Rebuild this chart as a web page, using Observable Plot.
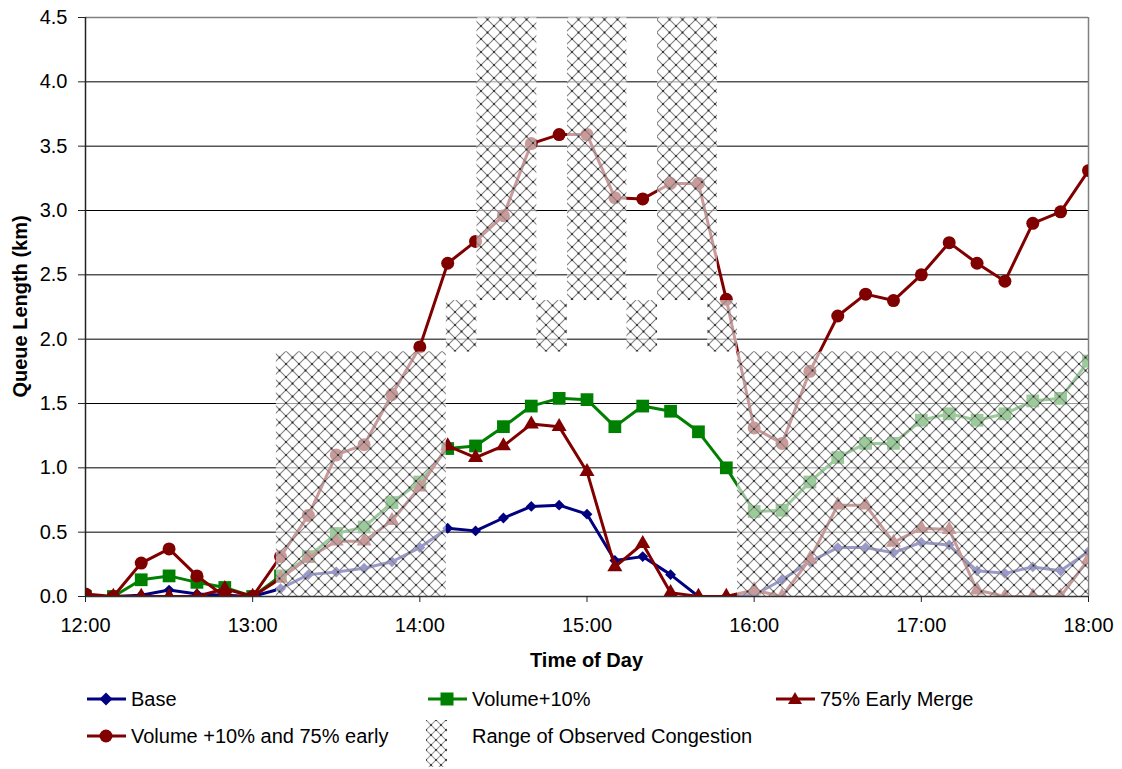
<!DOCTYPE html>
<html><head><meta charset="utf-8">
<script src="https://cdn.jsdelivr.net/npm/d3@7"></script>
<script src="https://cdn.jsdelivr.net/npm/@observablehq/plot@0.6"></script>
<style>
body{margin:0;background:#fff;font-family:"Liberation Sans",Arial,sans-serif;}
#wrap{position:relative;width:1122px;height:769px;overflow:hidden;background:#fff;}
.leg{position:absolute;display:flex;align-items:center;font-size:20px;color:#000;white-space:nowrap;}
.leg svg{display:block;}
</style></head><body><div id="wrap"></div>
<script>
// ---- data ----
const times = ["12:00","12:10","12:20","12:30","12:40","12:50","13:00","13:10","13:20","13:30","13:40","13:50",
  "14:00","14:10","14:20","14:30","14:40","14:50","15:00","15:10","15:20","15:30","15:40","15:50",
  "16:00","16:10","16:20","16:30","16:40","16:50","17:00","17:10","17:20","17:30","17:40","17:50","18:00","18:10"];
const base = [0.00,0.00,0.01,0.05,0.02,0.01,0.00,0.06,0.17,0.19,0.22,0.27,0.38,0.53,0.51,0.61,0.70,0.71,0.64,0.28,0.31,0.17,0.00,0.00,0.01,0.13,0.27,0.38,0.38,0.34,0.42,0.40,0.20,0.18,0.23,0.20,0.35,0.45];
const volume10 = [0.00,0.00,0.13,0.16,0.11,0.07,0.00,0.16,0.31,0.49,0.54,0.73,0.89,1.15,1.17,1.32,1.48,1.54,1.53,1.32,1.48,1.44,1.28,1.00,0.66,0.67,0.89,1.08,1.19,1.19,1.37,1.42,1.37,1.42,1.52,1.54,1.83,2.11];
const earlyMerge75 = [0.00,0.00,0.00,0.00,0.00,0.06,0.00,0.14,0.30,0.43,0.43,0.59,0.85,1.17,1.08,1.17,1.34,1.32,0.97,0.23,0.41,0.03,0.00,0.00,0.05,0.00,0.29,0.71,0.71,0.42,0.53,0.52,0.05,0.00,0.00,0.00,0.29,0.62];
const volume10Early75 = [0.02,0.00,0.26,0.37,0.16,0.00,0.00,0.31,0.63,1.10,1.18,1.57,1.94,2.59,2.76,2.96,3.52,3.59,3.59,3.10,3.09,3.21,3.21,2.31,1.31,1.19,1.75,2.18,2.35,2.30,2.50,2.75,2.59,2.45,2.90,2.99,3.31,3.85];
// observed congestion ranges
const congestionStart = ["13:08:30","14:09:30","14:20:30","14:42:00","14:53:00","15:14:20","15:25:20","15:43:20","15:54:00"];
const congestionEnd   = ["14:09:30","14:20:30","14:42:00","14:53:00","15:14:20","15:25:20","15:46:50","15:54:00","18:00:00"];
const congestionLow   = [0.0,1.9,2.3,1.9,2.3,1.9,2.3,1.9,0.0];
const congestionHigh  = [1.9,2.3,4.5,2.3,4.5,2.3,4.5,2.3,1.9];
const xTicks = ["12:00","13:00","14:00","15:00","16:00","17:00","18:00"];
const yTicks = [0,0.5,1,1.5,2,2.5,3,3.5,4,4.5];
const seriesNames = ["Base","Volume+10%","75% Early Merge","Volume +10% and 75% early"];
const congestionName = "Range of Observed Congestion";
const xTitle = "Time of Day";
const yTitle = "Queue Length (km)";

// ---- build ----
const toH = s => { const [h,m,sec=0] = s.split(":").map(Number); return h + m/60 + sec/3600; };
const seriesStyle = [
  {values: base, color:"#000080", symbol:"diamond2", r:4.9},
  {values: volume10, color:"#008000", symbol:"square", r:7.2},
  {values: earlyMerge75, color:"#800000", symbol:"triangle", r:5.6},
  {values: volume10Early75, color:"#800000", symbol:"circle", r:6.5}
];
const congestion = congestionStart.map((s,i)=>({x1:toH(s), x2:toH(congestionEnd[i]), y1:congestionLow[i], y2:congestionHigh[i]}));

const seriesMarks = seriesStyle.flatMap((s,k) => {
  const rows = times.map((t,i)=>({x:toH(t), y:s.values[i], name:seriesNames[k]}));
  return [
    Plot.line(rows,{x:"x",y:"y",stroke:s.color,strokeWidth:3,clip:true}),
    Plot.dot(rows,{x:"x",y:"y",symbol:s.symbol,r:s.r,fill:s.color,stroke:"none",clip:true})
  ];
});

const W=1122, H=680;
const chart = Plot.plot({
  width:W, height:H,
  marginLeft:85, marginRight:34, marginTop:17, marginBottom:84,
  x:{domain:[12,18]},
  y:{domain:[0,4.5]},
  style:{fontFamily:'"Liberation Sans",Arial,sans-serif', fontSize:"20px", background:"white", color:"black", overflow:"visible"},
  marks:[
    Plot.ruleY(yTicks.filter(v=>v>0&&v<4.5),{stroke:"#000",strokeWidth:1,strokeOpacity:1}),
    Plot.ruleY([4.5],{stroke:"#808080",strokeWidth:1.5}),
    Plot.ruleX([18],{stroke:"#808080",strokeWidth:1.5}),
    ...seriesMarks,
    Plot.rect(congestion,{x1:"x1",x2:"x2",y1:"y1",y2:"y2",fill:"url(#hatch)"}),
    Plot.ruleX([12],{stroke:"#222",strokeWidth:1.5}),
    Plot.ruleY([0],{stroke:"#333",strokeWidth:1.5}),
    Plot.axisX({ticks:xTicks.map(toH), tickFormat:(d,i)=>xTicks[i], tickSize:6, tickPadding:15, label:null, stroke:"#222"}),
    Plot.axisY({ticks:yTicks, tickFormat:d=>d.toFixed(1), tickSize:7, tickPadding:11, label:null, stroke:"#222"})
  ]
});

const patternDef = (id, op, P, col) => `<pattern id="${id}" patternUnits="userSpaceOnUse" width="${P}" height="${P}">
  <rect width="${P}" height="${P}" fill="white" fill-opacity="${op}"/>
  <path d="M-1,-1L${P+1},${P+1}M${P+1},-1L-1,${P+1}" stroke="${col}" stroke-width="1.15" fill="none"/>
  <circle cx="0" cy="0" r="1" fill="#222"/><circle cx="${P}" cy="0" r="1" fill="#222"/>
  <circle cx="0" cy="${P}" r="1" fill="#222"/><circle cx="${P}" cy="${P}" r="1" fill="#222"/>
  <circle cx="${P/2}" cy="${P/2}" r="1" fill="#222"/>
</pattern>`;
d3.select(chart).insert("defs",":first-child").html(patternDef("hatch",0.6,13,"#828282"));

// axis titles
const svg = d3.select(chart);
svg.append("text").attr("x",(85+(W-34))/2).attr("y",667).attr("text-anchor","middle")
  .attr("font-weight","bold").attr("font-size","20px").text(xTitle);
svg.append("text").attr("transform",`translate(27,${(17+596)/2}) rotate(-90)`).attr("text-anchor","middle")
  .attr("font-weight","bold").attr("font-size","20px").text(yTitle);

const wrap = document.getElementById("wrap");
wrap.appendChild(chart);
chart.style.position="absolute"; chart.style.left="0"; chart.style.top="0";

// legend
function sample(s){
  const c=s.color; let m="";
  if(s.symbol==="circle") m=`<circle cx="19" cy="12" r="6.5" fill="${c}"/>`;
  else if(s.symbol==="square") m=`<rect x="12.5" y="5.5" width="13" height="13" fill="${c}"/>`;
  else if(s.symbol==="diamond2") m=`<path d="M19,5.5L25.5,12L19,18.5L12.5,12Z" fill="${c}"/>`;
  else m=`<path d="M19,5L26,17L12,17Z" fill="${c}"/>`;
  return `<svg width="40" height="24"><line x1="0" x2="39" y1="12" y2="12" stroke="${c}" stroke-width="3"/>${m}</svg>`;
}
const legPos = [[87,699],[428,699],[776,699],[87,736]];
seriesStyle.forEach((s,k)=>{
  const d=document.createElement("div"); d.className="leg";
  d.style.left=legPos[k][0]+"px"; d.style.top=(legPos[k][1]-12)+"px";
  d.innerHTML=sample(s)+`<span style="margin-left:4px">${seriesNames[k]}</span>`;
  wrap.appendChild(d);
});
const sw=document.createElement("div"); sw.className="leg";
sw.style.left="426px"; sw.style.top="720px";
sw.innerHTML=`<svg width="21" height="47"><defs>${patternDef("hatchL",0.6,10,"#9a9a9a")}</defs><rect width="21" height="47" fill="url(#hatchL)"/></svg>`;
wrap.appendChild(sw);
const lt=document.createElement("div"); lt.className="leg";
lt.style.left="472px"; lt.style.top="724px"; lt.style.height="24px";
lt.textContent=congestionName;
wrap.appendChild(lt);
</script></body></html>
